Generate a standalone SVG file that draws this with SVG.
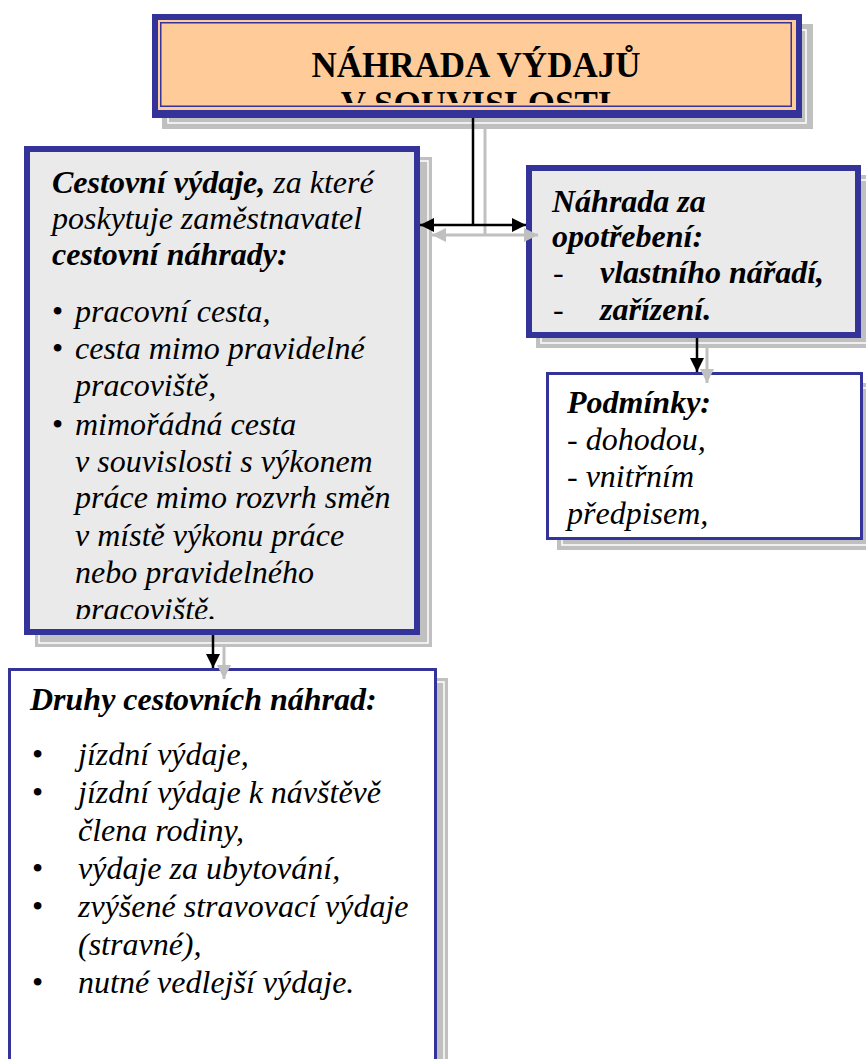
<svg xmlns="http://www.w3.org/2000/svg" width="866" height="1059" viewBox="0 0 866 1059" font-family="'Liberation Serif', 'Times New Roman', Tinos, 'DejaVu Serif', serif">
<style>
.t{fill:#000}
.i{font-style:italic;font-size:32px}
.b{font-weight:bold}
.bul{font-style:normal;font-size:32px}
.sh{fill:#C0C0C0}
.shl{fill:none;stroke:#FFFFFF;stroke-width:1.5}
.navy{fill:#333399}
.thin{fill:#FFFFFF;stroke:#333399;stroke-width:3}
.cb{stroke:#000;stroke-width:2.5;fill:none}
.cg{stroke:#C0C0C0;stroke-width:3;fill:none}
</style>
<defs>
<marker id="ab" viewBox="0 0 14 14" refX="14" refY="7" markerWidth="14" markerHeight="14" markerUnits="userSpaceOnUse" orient="auto-start-reverse"><path d="M0,0 L14,7 L0,14 z" fill="#000"/></marker>
<marker id="ag" viewBox="0 0 14 14" refX="14" refY="7" markerWidth="14" markerHeight="14" markerUnits="userSpaceOnUse" orient="auto-start-reverse"><path d="M0,0 L14,7 L0,14 z" fill="#C0C0C0"/></marker>
<clipPath id="clipTitle"><rect x="162" y="24" width="628" height="79"/></clipPath>
<clipPath id="clipLeft"><rect x="30" y="152" width="384" height="467"/></clipPath>
</defs>
<rect width="866" height="1059" fill="#FFFFFF"/>

<g id="node-title">
<rect class="sh" x="162" y="24" width="651" height="105"/>
<rect class="shl" x="168" y="30" width="638" height="93"/>
<rect class="navy" x="152" y="14" width="650" height="104"/>
<rect x="158" y="20" width="638" height="90" fill="#FFCC99"/>
<rect x="160.75" y="22.75" width="630.5" height="83.5" fill="none" stroke="#333399" stroke-width="1.5"/>
<g clip-path="url(#clipTitle)">
<text class="t b" x="476" y="77" font-size="35" text-anchor="middle">NÁHRADA VÝDAJŮ</text>
<text class="t b" x="476" y="116" font-size="35" text-anchor="middle">V SOUVISLOSTI</text>
</g>
</g>

<g id="node-cestovni">
<rect class="sh" x="35" y="157" width="397" height="490"/>
<rect class="shl" x="39" y="161" width="389" height="482"/>
<rect class="navy" x="24" y="146" width="396" height="489"/>
<rect x="30" y="152" width="384" height="477" fill="#EAEAEA"/>
<g clip-path="url(#clipLeft)">
<text class="t i" x="52" y="193"><tspan class="b">Cestovní výdaje,</tspan> za které</text>
<text class="t i" x="52" y="229">poskytuje zaměstnavatel</text>
<text class="t i b" x="52" y="265">cestovní náhrady:</text>
<text class="t bul" x="52" y="322">•</text><text class="t i" x="75" y="322">pracovní cesta,</text>
<text class="t bul" x="52" y="359">•</text><text class="t i" x="75" y="359">cesta mimo pravidelné</text>
<text class="t i" x="75" y="396">pracoviště,</text>
<text class="t bul" x="52" y="435">•</text><text class="t i" x="75" y="435">mimořádná cesta</text>
<text class="t i" x="75" y="472">v souvislosti s výkonem</text>
<text class="t i" x="75" y="508">práce mimo rozvrh směn</text>
<text class="t i" x="75" y="546">v místě výkonu práce</text>
<text class="t i" x="75" y="583">nebo pravidelného</text>
<text class="t i" x="75" y="620">pracoviště.</text>
</g>
</g>

<g id="node-opotrebeni">
<rect class="sh" x="536" y="175" width="335" height="173"/>
<rect class="shl" x="541" y="180" width="330" height="163"/>
<rect class="navy" x="526" y="165" width="335" height="173"/>
<rect x="532" y="171" width="323" height="161" fill="#EAEAEA"/>
<text class="t i b" x="552" y="212">Náhrada za</text>
<text class="t i b" x="552" y="247">opotřebení:</text>
<text class="t" x="553" y="283" font-size="32">-</text><text class="t i b" x="600" y="283">vlastního nářadí,</text>
<text class="t" x="553" y="320" font-size="32">-</text><text class="t i b" x="600" y="320">zařízení.</text>
</g>

<g id="node-podminky">
<rect class="sh" x="557" y="383" width="320" height="167"/>
<rect class="shl" x="562" y="388" width="320" height="157"/>
<rect class="thin" x="547.5" y="373.5" width="314" height="165"/>
<text class="t i b" x="567" y="413">Podmínky:</text>
<text class="t i" x="567" y="450">- dohodou,</text>
<text class="t i" x="567" y="487">- vnitřním</text>
<text class="t i" x="567" y="524">předpisem,</text>
</g>

<g id="node-druhy">
<rect class="sh" x="19" y="678" width="429" height="400"/>
<rect class="shl" x="23" y="682" width="421" height="400"/>
<rect class="thin" x="9.5" y="669.5" width="426" height="400"/>
<text class="t i b" x="30" y="710">Druhy cestovních náhrad:</text>
<text class="t bul" x="32" y="765">•</text><text class="t i" x="78" y="765">jízdní výdaje,</text>
<text class="t bul" x="32" y="803">•</text><text class="t i" x="78" y="803">jízdní výdaje k návštěvě</text>
<text class="t i" x="78" y="841">člena rodiny,</text>
<text class="t bul" x="32" y="879">•</text><text class="t i" x="78" y="879">výdaje za ubytování,</text>
<text class="t bul" x="32" y="917">•</text><text class="t i" x="78" y="917">zvýšené stravovací výdaje</text>
<text class="t i" x="78" y="955">(stravné),</text>
<text class="t bul" x="32" y="993">•</text><text class="t i" x="78" y="993">nutné vedlejší výdaje.</text>
</g>

<g id="connectors">
<path class="cg" d="M485,129 V235"/>
<path class="cg" d="M432,235 H538" marker-start="url(#ag)" marker-end="url(#ag)"/>
<path class="cg" d="M224,647 V679" marker-end="url(#ag)"/>
<path class="cg" d="M707,348 V383" marker-end="url(#ag)"/>
<path class="cb" d="M473,118 V225"/>
<path class="cb" d="M420,225 H526" marker-start="url(#ab)" marker-end="url(#ab)"/>
<path class="cb" d="M213,635 V668" marker-end="url(#ab)"/>
<path class="cb" d="M697,338 V372" marker-end="url(#ab)"/>
</g>
</svg>
